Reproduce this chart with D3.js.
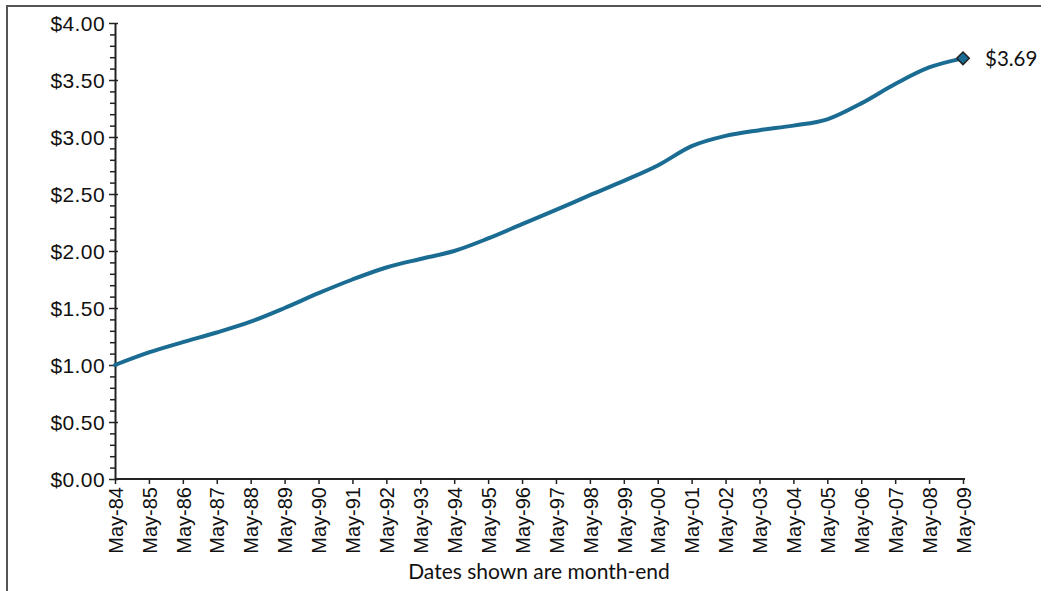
<!DOCTYPE html>
<html>
<head>
<meta charset="utf-8">
<script src="https://cdn.jsdelivr.net/npm/d3@7"></script>
<style>
  html, body { margin: 0; padding: 0; background: #fff; }
  svg { display: block; font-family: Lato, "Open Sans", sans-serif; }
</style>
</head>
<body>
<svg id="chart" width="1048" height="591"></svg>
<script>
// Growth of $1 invested, sampled each May (month-end)
const dates = ["May-84","May-85","May-86","May-87","May-88","May-89","May-90","May-91","May-92",
  "May-93","May-94","May-95","May-96","May-97","May-98","May-99","May-00","May-01","May-02",
  "May-03","May-04","May-05","May-06","May-07","May-08","May-09"];
const values = [1.00, 1.11, 1.20, 1.285, 1.38, 1.50, 1.63, 1.75, 1.855,
  1.93, 2.00, 2.11, 2.235, 2.36, 2.49, 2.615, 2.75, 2.92, 3.01,
  3.06, 3.10, 3.155, 3.295, 3.465, 3.61, 3.69];
const yTicks = [0, 0.5, 1, 1.5, 2, 2.5, 3, 3.5, 4];
const xTitle = "Dates shown are month-end";

const svg = d3.select("#chart");
const m = { left: 115, right: 963, top: 23, bottom: 479 };

const x = d3.scalePoint().domain(dates).range([m.left, m.right]);
const y = d3.scaleLinear().domain([0, 4]).range([m.bottom, m.top]);
const money = d3.format("$.2f");
const ink = "#111";

// frame
svg.append("path")
  .attr("d", `M7,591 V6 H1041`)
  .attr("fill", "none").attr("stroke", "#555").attr("stroke-width", 2);

// y axis: minor ticks every 0.10
const minor = d3.range(0, 4.0001, 0.1).filter(v => Math.abs(v * 2 - Math.round(v * 2)) > 1e-6);
svg.append("g").attr("transform", `translate(${m.left},0)`)
  .call(d3.axisLeft(y).tickValues(minor).tickSize(5).tickFormat(""))
  .call(g => g.select(".domain").remove())
  .selectAll("line").attr("stroke", "#222").attr("stroke-width", 1.5);

const yAxis = svg.append("g").attr("transform", `translate(${m.left},0)`)
  .call(d3.axisLeft(y).tickValues(yTicks).tickSize(6).tickSizeOuter(0).tickPadding(4).tickFormat(money));
yAxis.select(".domain").attr("stroke", "#222").attr("stroke-width", 2);
yAxis.selectAll(".tick line").attr("stroke", "#222").attr("stroke-width", 1.5).attr("x2", 3).attr("x1", -6);
yAxis.selectAll("text").attr("font-size", 21).attr("letter-spacing", 0.4)
  .attr("fill", ink).attr("dy", "0.34em");

// x axis
const xAxis = svg.append("g").attr("transform", `translate(0,${m.bottom})`)
  .call(d3.axisBottom(x).tickSize(5).tickSizeOuter(0).tickPadding(3));
xAxis.select(".domain").attr("stroke", "#222").attr("stroke-width", 2)
  .attr("d", `M${m.left},0H${m.right + 2}`);
xAxis.selectAll(".tick line").attr("stroke", "#222").attr("stroke-width", 1.5);
xAxis.selectAll("text")
  .attr("font-size", 20).attr("fill", ink)
  .attr("text-anchor", "end")
  .attr("transform", "rotate(-90)")
  .attr("x", -8).attr("y", 0).attr("dy", "0.36em");

svg.append("text")
  .attr("x", 539).attr("y", 579)
  .attr("text-anchor", "middle").attr("font-size", 21).attr("fill", ink)
  .text(xTitle);

// growth line
const line = d3.line()
  .x((d, i) => x(dates[i]))
  .y(d => y(d))
  .curve(d3.curveMonotoneX);
svg.append("path").datum(values)
  .attr("d", line)
  .attr("fill", "none").attr("stroke", "#1b6c93").attr("stroke-width", 4)
  .attr("stroke-linejoin", "round").attr("stroke-linecap", "round");

// end-point marker and value
const last = values.length - 1;
const ex = x(dates[last]), ey = y(values[last]);
svg.append("path")
  .attr("d", d3.symbol().type(d3.symbolDiamond2).size(100)())
  .attr("transform", `translate(${ex},${ey})`)
  .attr("fill", "#1b6c93").attr("stroke", "#222").attr("stroke-width", 1.5);
svg.append("text")
  .attr("x", ex + 22).attr("y", ey).attr("dy", "0.35em")
  .attr("font-size", 20.5).attr("fill", ink)
  .text(money(values[last]));
</script>
</body>
</html>
